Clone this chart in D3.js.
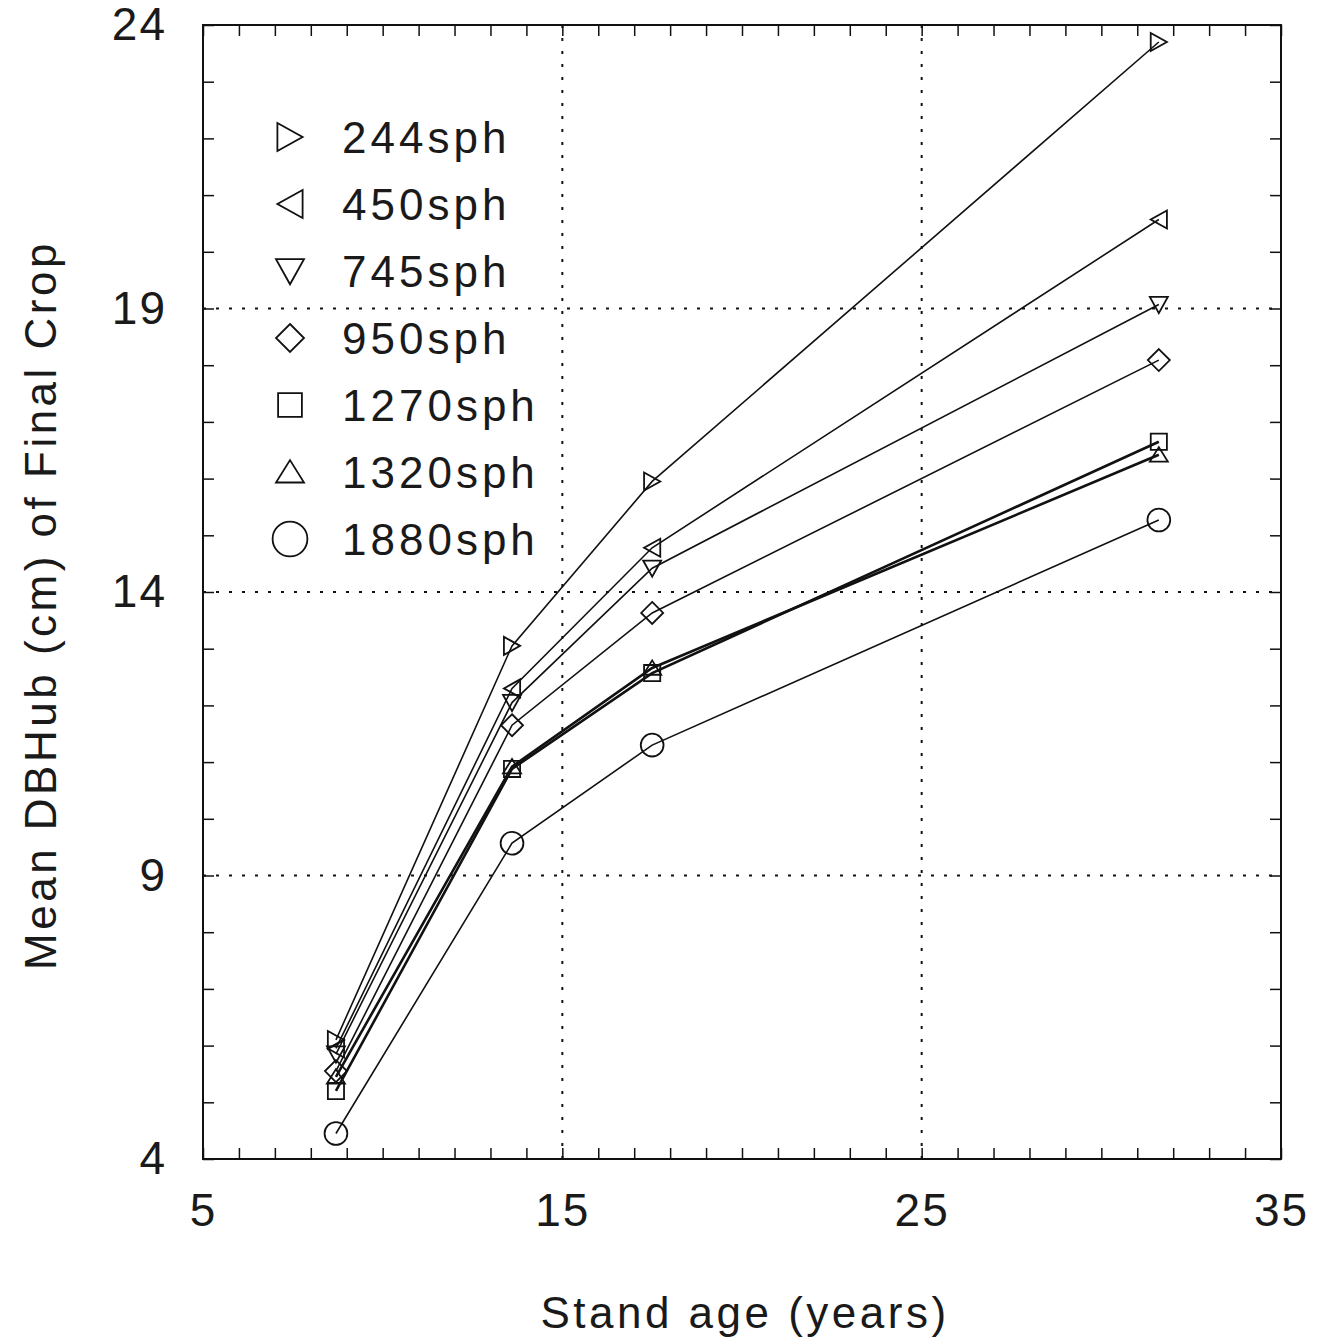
<!DOCTYPE html>
<html>
<head>
<meta charset="UTF-8">
<style>
body {
	margin: 0 ;
	background-color: #ffffff ;
}
text {
	font-family: "Liberation Sans", Arial, Helvetica, sans-serif ;
	fill: #1a1a1a ;
}
.tick line {
	stroke: #111 ;
	stroke-width: 1.5 ;
}
.tick text {
	font-size: 46px ;
	letter-spacing: 2px ;
}
.grid {
	stroke: #111 ;
	stroke-width: 2 ;
	stroke-dasharray: 3,10 ;
}
.series {
	fill: none ;
	stroke: #111 ;
}
.marker {
	fill: none ;
	stroke: #111 ;
	stroke-width: 1.8 ;
}
.title {
	font-size: 44px ;
	letter-spacing: 3.5px ;
}
.legend text {
	font-size: 44px ;
	letter-spacing: 4px ;
}
</style>
<title>Mean DBHub</title>
<script src="https://cdn.jsdelivr.net/npm/d3@7"></script>
</head>
<body>
<div id="chart"></div>
<script type="text/javascript" charset="utf-8">

// stand age (years) of each measurement
var ages = [ 8.7, 13.6, 17.5, 31.6 ] ;

// stocking labels
var densities = [ "244sph", "450sph", "745sph", "950sph", "1270sph", "1320sph", "1880sph" ] ;

// mean DBHub (cm) of final crop, one array per stocking
var dbh244  = [ 6.1,  13.05, 15.95, 23.7  ] ;
var dbh450  = [ 5.95, 12.3,  14.78, 20.57 ] ;
var dbh745  = [ 5.85, 12.05, 14.42, 19.07 ] ;
var dbh950  = [ 5.55, 11.65, 13.63, 18.09 ] ;
var dbh1270 = [ 5.2,  10.88, 12.57, 16.65 ] ;
var dbh1320 = [ 5.45, 10.92, 12.66, 16.42 ] ;
var dbh1880 = [ 4.45, 9.57,  11.3,  15.27 ] ;

var xTicks = [ 5, 15, 25, 35 ] ;
var yTicks = [ 4, 9, 14, 19, 24 ] ;

var allSeries = [ dbh244, dbh450, dbh745, dbh950, dbh1270, dbh1320, dbh1880 ] ;

var width = 1336 ;
var height = 1343 ;
var plotLeft = 203, plotRight = 1281, plotTop = 25, plotBottom = 1159 ;

var x = d3.scaleLinear().domain( [ 5, 35 ] ).range( [ plotLeft, plotRight ] ) ;
var y = d3.scaleLinear().domain( [ 4, 24 ] ).range( [ plotBottom, plotTop ] ) ;

var svg = d3.select( "#chart" ).append( "svg" )
	.attr( "width", width )
	.attr( "height", height ) ;

// marker shapes, s = half size
function markerPath( kind, s ) {
	var p = d3.path() ;
	if( kind == "right" ) {
		p.moveTo( -s*0.9, -s ) ; p.lineTo( s*0.9, 0 ) ; p.lineTo( -s*0.9, s ) ; p.closePath() ;
	} else if( kind == "left" ) {
		p.moveTo( s*0.9, -s ) ; p.lineTo( -s*0.9, 0 ) ; p.lineTo( s*0.9, s ) ; p.closePath() ;
	} else if( kind == "down" ) {
		p.moveTo( -s, -s*0.85 ) ; p.lineTo( s, -s*0.85 ) ; p.lineTo( 0, s*0.95 ) ; p.closePath() ;
	} else if( kind == "up" ) {
		p.moveTo( -s, s*0.75 ) ; p.lineTo( s, s*0.75 ) ; p.lineTo( 0, -s*0.85 ) ; p.closePath() ;
	} else if( kind == "diamond" ) {
		p.moveTo( 0, -s ) ; p.lineTo( s, 0 ) ; p.lineTo( 0, s ) ; p.lineTo( -s, 0 ) ; p.closePath() ;
	} else if( kind == "square" ) {
		p.rect( -s*0.85, -s*0.85, s*1.7, s*1.7 ) ;
	} else {
		p.arc( 0, 0, s*1.2, 0, 2*Math.PI ) ;
	}
	return p.toString() ;
}
var kinds = [ "right", "left", "down", "diamond", "square", "up", "circle" ] ;
var lineWidths = [ 1.6, 1.6, 1.6, 1.6, 2.6, 2.6, 1.6 ] ;
var plotSizes = [ 9, 9, 9, 11, 9.5, 9, 9.5 ] ;

// grid lines
svg.selectAll( "line.gx" )
	.data( [ 15, 25 ] )
	.enter().append( "line" )
		.attr( "class", "grid" )
		.attr( "x1", function(d) { return x(d) } )
		.attr( "x2", function(d) { return x(d) } )
		.attr( "y1", plotTop )
		.attr( "y2", plotBottom ) ;

svg.selectAll( "line.gy" )
	.data( [ 9, 14, 19 ] )
	.enter().append( "line" )
		.attr( "class", "grid" )
		.attr( "x1", plotLeft )
		.attr( "x2", plotRight )
		.attr( "y1", function(d) { return y(d) } )
		.attr( "y2", function(d) { return y(d) } ) ;

// axes: minor ticks every unit, pointing inwards
var xMinor = d3.range( 5, 36, 1 ) ;
var yMinor = d3.range( 4, 25, 1 ) ;

svg.append( "g" )
	.attr( "transform", "translate(0," + plotBottom + ")" )
	.call( d3.axisBottom( x ).tickValues( xMinor ).tickSize( -11 ).tickPadding( 34 )
		.tickFormat( function(d) { return xTicks.indexOf( d ) >= 0 ? d : "" } ) ) ;

svg.append( "g" )
	.attr( "transform", "translate(0," + plotTop + ")" )
	.call( d3.axisTop( x ).tickValues( xMinor ).tickSize( -11 ).tickFormat( "" ) ) ;

svg.append( "g" )
	.attr( "transform", "translate(" + plotLeft + ",0)" )
	.call( d3.axisLeft( y ).tickValues( yMinor ).tickSize( -11 ).tickPadding( 36 )
		.tickFormat( function(d) { return yTicks.indexOf( d ) >= 0 ? d : "" } ) ) ;

svg.append( "g" )
	.attr( "transform", "translate(" + plotRight + ",0)" )
	.call( d3.axisRight( y ).tickValues( yMinor ).tickSize( -11 ).tickFormat( "" ) ) ;

svg.selectAll( ".domain" ).remove() ;

svg.append( "rect" )
	.attr( "x", plotLeft )
	.attr( "y", plotTop )
	.attr( "width", plotRight - plotLeft )
	.attr( "height", plotBottom - plotTop )
	.attr( "fill", "none" )
	.attr( "stroke", "#111" )
	.attr( "stroke-width", 2 ) ;

// lines and markers
var line = d3.line()
	.x( function(d, i) { return x( ages[i] ) } )
	.y( function(d) { return y( d ) } ) ;

allSeries.forEach( function( values, k ) {
	svg.append( "path" )
		.attr( "class", "series" )
		.attr( "stroke-width", lineWidths[k] )
		.attr( "d", line( values ) ) ;

	svg.selectAll( "path.m" + k )
		.data( values )
		.enter().append( "path" )
			.attr( "class", "marker m" + k )
			.attr( "transform", function(d, i) { return "translate(" + x( ages[i] ) + "," + y( d ) + ")" } )
			.attr( "d", markerPath( kinds[k], plotSizes[k] ) ) ;
}) ;

// legend
var legend = svg.append( "g" ).attr( "class", "legend" ) ;
densities.forEach( function( name, k ) {
	var ly = 137 + k * 67 ;
	legend.append( "path" )
		.attr( "class", "marker" )
		.attr( "transform", "translate(290," + ly + ")" )
		.attr( "d", markerPath( kinds[k], k == 6 ? 14.5 : 14 ) ) ;
	legend.append( "text" )
		.attr( "x", 342 )
		.attr( "y", ly + 16 )
		.text( name ) ;
}) ;

// titles
svg.append( "text" )
	.attr( "class", "title" )
	.attr( "text-anchor", "middle" )
	.attr( "x", 745 )
	.attr( "y", 1328 )
	.text( "Stand age (years)" ) ;

svg.append( "text" )
	.attr( "class", "title" )
	.attr( "text-anchor", "middle" )
	.attr( "transform", "translate(56,605) rotate(-90)" )
	.text( "Mean DBHub (cm) of Final Crop" ) ;

</script>
</body>
</html>
